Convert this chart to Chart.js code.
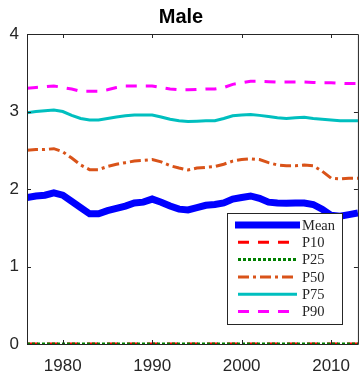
<!DOCTYPE html>
<html>
<head>
<meta charset="utf-8">
<script src="https://cdn.jsdelivr.net/npm/chart.js@4/dist/chart.umd.min.js"></script>
<style>
  html, body { margin: 0; padding: 0; background: #fff; overflow: hidden; }
  #wrap { width: 362px; height: 374px; }
</style>
</head>
<body>
<div id="wrap"><canvas id="grafico"></canvas></div>
<script>
// dados
const anos = [1976, 1977, 1978, 1979, 1980, 1981, 1982, 1983, 1984, 1985,
              1986, 1987, 1988, 1989, 1990, 1991, 1992, 1993, 1994, 1995,
              1996, 1997, 1998, 1999, 2000, 2001, 2002, 2003, 2004, 2005,
              2006, 2007, 2008, 2009, 2010, 2011, 2012, 2013];
const media = [1.89, 1.91, 1.92, 1.95, 1.92, 1.84, 1.76, 1.68, 1.68, 1.72,
               1.75, 1.78, 1.82, 1.83, 1.87, 1.83, 1.78, 1.74, 1.73, 1.76,
               1.79, 1.80, 1.82, 1.87, 1.89, 1.91, 1.88, 1.83, 1.82, 1.815,
               1.82, 1.82, 1.80, 1.74, 1.66, 1.65, 1.67, 1.69];
const p10 = anos.map(() => 0);
const p25 = anos.map(() => 0);
const p50 = [2.50, 2.51, 2.51, 2.52, 2.48, 2.40, 2.31, 2.25, 2.25, 2.29,
             2.32, 2.34, 2.36, 2.37, 2.38, 2.35, 2.30, 2.27, 2.245, 2.27,
             2.28, 2.29, 2.32, 2.36, 2.38, 2.39, 2.38, 2.34, 2.31, 2.30,
             2.30, 2.31, 2.30, 2.23, 2.14, 2.13, 2.14, 2.14];
const p75 = [2.985, 3.00, 3.01, 3.02, 3.00, 2.95, 2.91, 2.89, 2.89, 2.91,
             2.93, 2.945, 2.955, 2.955, 2.955, 2.93, 2.90, 2.88, 2.87, 2.875,
             2.88, 2.88, 2.91, 2.945, 2.955, 2.96, 2.95, 2.935, 2.92, 2.91,
             2.92, 2.925, 2.91, 2.90, 2.89, 2.88, 2.88, 2.88];
const p90 = [3.30, 3.31, 3.32, 3.33, 3.31, 3.29, 3.26, 3.26, 3.26, 3.28,
             3.31, 3.33, 3.33, 3.33, 3.33, 3.31, 3.29, 3.28, 3.28, 3.285,
             3.29, 3.29, 3.31, 3.35, 3.37, 3.39, 3.39, 3.385, 3.38, 3.38,
             3.38, 3.38, 3.375, 3.37, 3.37, 3.365, 3.36, 3.36];
const ticksX = [1980, 1990, 2000, 2010];
const ticksY = [0, 1, 2, 3, 4];

const serie = (label, valores, cor, largura, tracejado, ordem) => ({
    label: label,
    data: anos.map((a, i) => ({ x: a, y: valores[i] })),
    borderColor: cor,
    backgroundColor: cor,
    borderWidth: largura,
    borderDash: tracejado,
    pointRadius: 0,
    tension: 0,
    fill: false,
    order: ordem
});

// moldura e ticks para dentro (estilo matlab)
const moldura = {
    id: 'moldura',
    afterDatasetsDraw(chart) {
        const { ctx, chartArea: a, scales } = chart;
        ctx.save();
        ctx.strokeStyle = '#262626';
        ctx.lineWidth = 1;
        ctx.beginPath();
        ctx.rect(a.left + 0.5, a.top + 0.5, a.right - a.left, a.bottom - a.top);
        ctx.stroke();
        ctx.beginPath();
        ticksX.forEach(v => {
            const x = Math.round(scales.x.getPixelForValue(v)) + 0.5;
            ctx.moveTo(x, a.bottom); ctx.lineTo(x, a.bottom - 4);
            ctx.moveTo(x, a.top); ctx.lineTo(x, a.top + 4);
        });
        ticksY.forEach(v => {
            const y = Math.round(scales.y.getPixelForValue(v)) + 0.5;
            ctx.moveTo(a.left, y); ctx.lineTo(a.left + 4, y);
            ctx.moveTo(a.right, y); ctx.lineTo(a.right - 4, y);
        });
        ctx.stroke();
        ctx.restore();
    }
};

// legenda desenhada à mão (caixa dentro do gráfico)
const legenda = {
    id: 'legenda',
    afterDraw(chart) {
        const ctx = chart.ctx;
        ctx.save();
        ctx.fillStyle = '#fff';
        ctx.fillRect(227, 213, 115, 111);
        ctx.strokeStyle = '#262626';
        ctx.lineWidth = 1;
        ctx.strokeRect(227.5, 213.5, 115, 111);
        ctx.font = '14.5px "Liberation Serif", "DejaVu Serif", serif';
        ctx.textBaseline = 'middle';
        chart.data.datasets.forEach((ds, i) => {
            const y = 225 + i * 17.3;
            ctx.strokeStyle = ds.borderColor;
            ctx.lineWidth = ds.borderWidth;
            ctx.setLineDash(ds.borderDash);
            ctx.beginPath();
            if (i === 0) { ctx.moveTo(235, y); ctx.lineTo(300, y); }
            else { ctx.moveTo(238, y); ctx.lineTo(297, y); }
            ctx.stroke();
            ctx.setLineDash([]);
            ctx.fillStyle = '#262626';
            ctx.fillText(ds.label, 302, y + 1);
        });
        ctx.restore();
    }
};

const ctx = document.getElementById('grafico').getContext('2d');
new Chart(ctx, {
    type: 'line',
    data: {
        datasets: [
            serie('Mean', media, '#0000ff', 7, [], 6),
            serie('P10', p10, '#ff0000', 3, [11, 9], 5),
            serie('P25', p25, '#008000', 3, [3, 2], 4),
            serie('P50', p50, '#d95319', 3, [11, 4, 3, 4], 3),
            serie('P75', p75, '#00bfbf', 3, [], 2),
            serie('P90', p90, '#ff00ff', 3, [11, 9], 1)
        ]
    },
    options: {
        responsive: true,
        maintainAspectRatio: false,
        animation: false,
        layout: { padding: 0 },
        scales: {
            x: {
                type: 'linear',
                min: 1976,
                max: 2013,
                afterBuildTicks: s => { s.ticks = ticksX.map(v => ({ value: v })); },
                afterFit: s => { s.height = 30; },
                border: { display: false },
                grid: { display: false, drawTicks: false },
                ticks: {
                    padding: 12,
                    color: '#262626',
                    maxRotation: 0,
                    font: { family: '"Liberation Sans", Arial, sans-serif', size: 17 },
                    callback: v => String(v)
                }
            },
            y: {
                min: 0,
                max: 4,
                afterBuildTicks: s => { s.ticks = ticksY.map(v => ({ value: v })); },
                afterFit: s => { s.width = 27; },
                border: { display: false },
                grid: { display: false, drawTicks: false },
                ticks: {
                    padding: 8,
                    color: '#262626',
                    font: { family: '"Liberation Sans", Arial, sans-serif', size: 17 }
                }
            }
        },
        plugins: {
            legend: { display: false },
            tooltip: { enabled: false },
            title: {
                display: true,
                text: 'Male',
                color: '#000',
                padding: { top: 5, bottom: 5 },
                font: { family: '"Liberation Sans", Arial, sans-serif', size: 20, weight: 'bold' }
            }
        }
    },
    plugins: [moldura, legenda]
});
</script>
</body>
</html>
